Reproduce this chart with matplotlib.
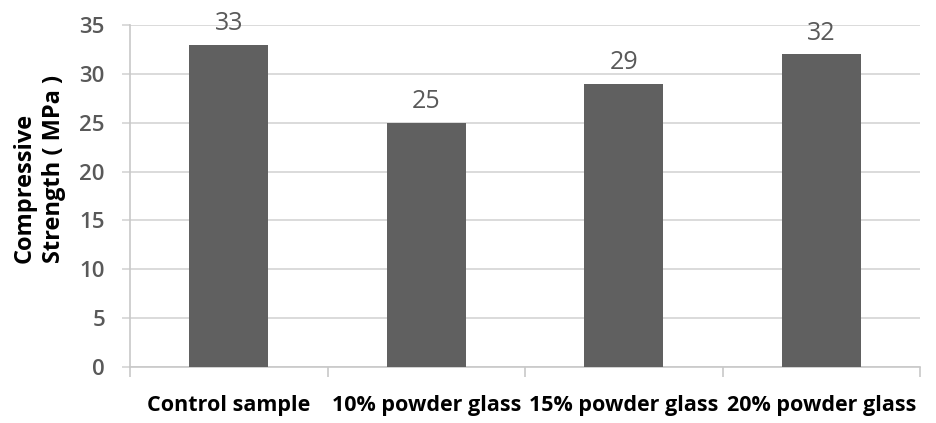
import matplotlib
matplotlib.use("Agg")
import matplotlib.pyplot as plt

categories = ["Control sample", "10% powder glass", "15% powder glass", "20% powder glass"]
strength = [33, 25, 29, 32]
y_ticks = [0, 5, 10, 15, 20, 25, 30, 35]

plt.rcParams["font.family"] = ["Open Sans", "DejaVu Sans"]

fig = plt.figure(figsize=(9.36, 4.23), dpi=100)
ax = fig.add_axes([130 / 936, 1 - 367 / 423, 790 / 936, 342 / 423])

x = list(range(len(categories)))
bars = ax.bar(x, strength, width=0.4, color="#606060", zorder=3)

for b, v in zip(bars, strength):
    ax.annotate(f"{v}", (b.get_x() + b.get_width() / 2, v), xytext=(0, 6),
                textcoords="offset points", ha="center", va="bottom",
                fontsize=18, color="#595959")

ax.set_xlim(-0.5, len(categories) - 0.5)
ax.set_ylim(0, 35)
ax.set_yticks(y_ticks)
ax.set_yticklabels([str(t) for t in y_ticks], fontsize=16, color="#595959",
                   fontweight="semibold")
ax.yaxis.grid(True, color="#d4d4d4", linewidth=1.2, zorder=0)
ax.tick_params(axis="y", length=6, width=1.2, color="#d4d4d4", pad=12)

# category labels sit between boundary ticks
ax.set_xticks([i - 0.5 for i in range(len(categories) + 1)])
ax.set_xticklabels([])
ax.set_xticks(x, minor=True)
ax.set_xticklabels(categories, minor=True, fontsize=15.5, fontweight="bold", color="black")
ax.tick_params(axis="x", which="major", length=7, color="#c8c8c8", width=1.2)
ax.tick_params(axis="x", which="minor", length=0, pad=20)

for side in ("top", "right"):
    ax.spines[side].set_visible(False)
for side in ("left", "bottom"):
    ax.spines[side].set_color("#c8c8c8")
    ax.spines[side].set_linewidth(1.2)

ax.set_ylabel("Compressive\nStrength ( MPa )", fontsize=17, fontweight="bold",
              color="black", linespacing=1.3, multialignment="left")
ax.yaxis.set_label_coords(-0.081, 0.578)

fig.savefig("out.png", dpi=100)
